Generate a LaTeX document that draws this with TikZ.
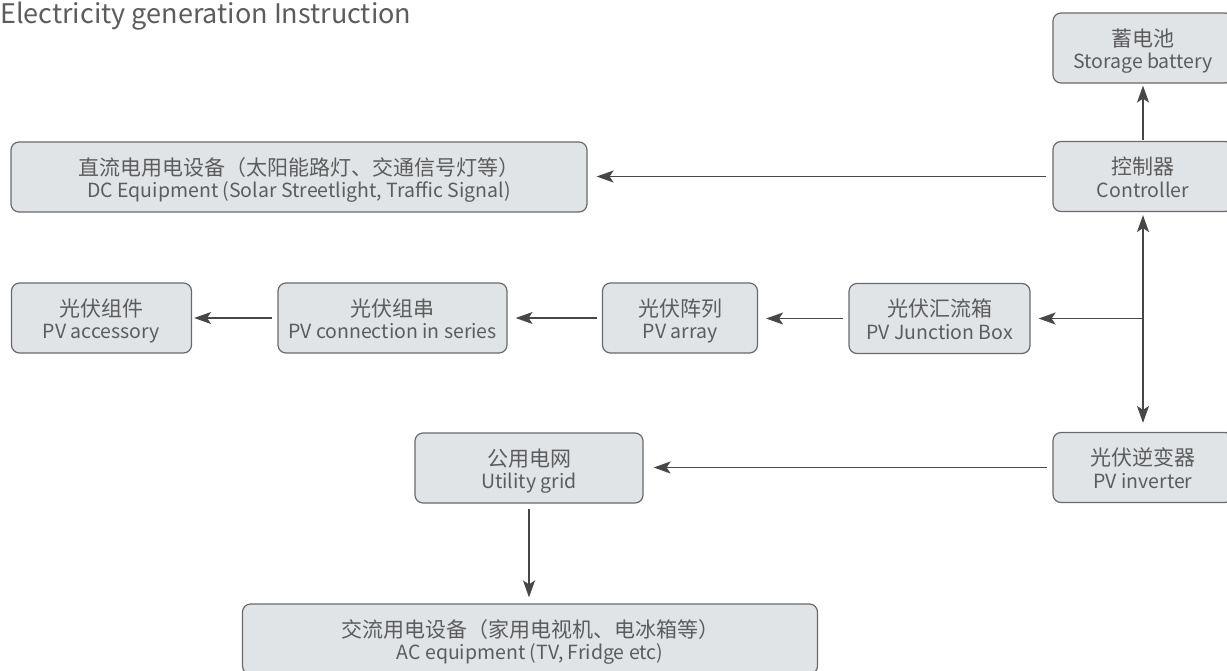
\documentclass[tikz,border=0pt]{standalone}
\usepackage{fontspec}
\setmainfont{Noto Sans CJK SC}
\usetikzlibrary{arrows.meta,calc}
\definecolor{boxfill}{HTML}{E1E4E7}
\definecolor{boxline}{HTML}{6A6A6A}
\definecolor{txt}{HTML}{5C5C5C}
\definecolor{arrc}{HTML}{474747}
\newcommand\boxtext[3]{%
  \node[zhtext,anchor=base] (#1zh) at ($(#1.center)+(0,-2)$) {#2};
  \node[entext,anchor=base] (#1en) at ($(#1.center)+(0,20.5)$) {#3};}
\begin{document}
\begin{tikzpicture}[x=1pt,y=-1pt,
  box/.style={draw=boxline, fill=boxfill, rounded corners=8pt, line width=1.2pt,
    inner sep=0pt, minimum height=70pt},
  zhtext/.style={text=txt, inner sep=0pt, font=\fontsize{21}{24}\selectfont},
  entext/.style={text=txt, inner sep=0pt, font=\fontsize{19.5}{24}\selectfont},
  arr/.style={draw=arrc, line width=1.5pt, -{Stealth[length=17pt,width=12pt,inset=4pt]}}]
\useasboundingbox (0,0) rectangle (1227,670);
\node[anchor=base west, text=txt, font=\fontsize{27}{30}\selectfont, inner sep=0pt] (title) at (0,23) {Electricity generation Instruction};
% boxes
\node[box, minimum width=180pt] (bat) at (1143,48) {};
\node[box, minimum width=180pt] (ctrl) at (1143,176.5) {};
\node[box, minimum width=576pt] (dc) at (299,177) {};
\node[box, minimum width=180pt] (acc) at (101.5,318) {};
\node[box, minimum width=229pt] (ser) at (392.5,318) {};
\node[box, minimum width=155pt] (parr) at (680,318) {};
\node[box, minimum width=181pt] (jb) at (939.5,318.5) {};
\node[box, minimum width=180pt] (inv) at (1143,467.5) {};
\node[box, minimum width=228pt] (ug) at (529,468) {};
\node[box, minimum width=575pt] (ac) at (530,639) {};
\boxtext{bat}{蓄电池}{Storage battery}
\boxtext{ctrl}{控制器}{Controller}
\boxtext{dc}{直流电用电设备（太阳能路灯、交通信号灯等）}{DC Equipment (Solar Streetlight, Traffic Signal)}
\boxtext{acc}{光伏组件}{PV accessory}
\boxtext{ser}{光伏组串}{PV connection in series}
\boxtext{parr}{光伏阵列}{PV array}
\boxtext{jb}{光伏汇流箱}{PV Junction Box}
\boxtext{inv}{光伏逆变器}{PV inverter}
\boxtext{ug}{公用电网}{Utility grid}
\boxtext{ac}{交流用电设备（家用电视机、电冰箱等）}{AC equipment (TV, Fridge etc)}
% connectors
\draw[arr, shorten <=1pt, shorten >=2pt] (ctrl.north) -- (bat.south);
\draw[arr, shorten <=6pt, shorten >=9pt] (ctrl.west) -- (ctrl.west -| dc.east);
\coordinate (jn) at (ctrl.south |- jb.east);
\draw[arr, shorten >=3pt] (jn) -- (ctrl.south);
\draw[arr, shorten >=9pt] (jn) -- (inv.north);
\draw[arr, shorten >=8pt] (jn) -- (jb.east);
\draw[arr, shorten <=5pt, shorten >=8pt] (jb.west) -- (jb.west -| parr.east);
\draw[arr, shorten <=5pt, shorten >=8pt] (parr.west) -- (parr.west -| ser.east);
\draw[arr, shorten <=5pt, shorten >=2pt] (ser.west) -- (ser.west -| acc.east);
\draw[arr, shorten <=5pt, shorten >=10pt] (inv.west) -- (inv.west -| ug.east);
\draw[arr, shorten <=5pt, shorten >=6pt] (ug.south) -- (ug.south |- ac.north);
\end{tikzpicture}
\end{document}
